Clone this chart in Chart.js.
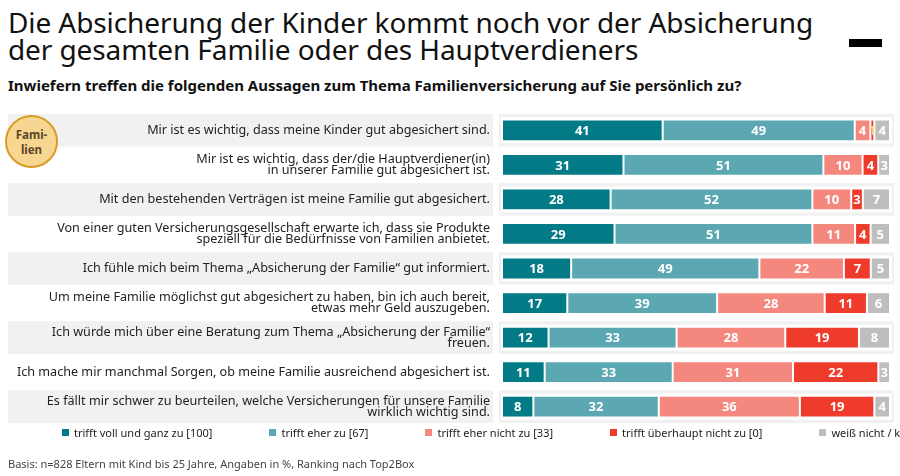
<!DOCTYPE html>
<html>
<head>
<meta charset="utf-8">
<script src="https://cdn.jsdelivr.net/npm/chart.js@4.4.1/dist/chart.umd.min.js"></script>
<style>
  html, body { margin: 0; padding: 0; background: #fff; }
  body { width: 900px; height: 476px; position: relative; overflow: hidden; font-family: "Noto Sans", sans-serif; color: #111; }
  #title { position: absolute; left: 8px; top: 9px; font-size: 28px; line-height: 27px; letter-spacing: -0.1px; }
  #dash { position: absolute; left: 849px; top: 39px; width: 33px; height: 8px; background: #000; }
  #subtitle { position: absolute; left: 8px; top: 75px; font-size: 15px; font-weight: bold; }
  #wrap { position: absolute; left: 0; top: 0; width: 900px; height: 476px; }
  #badge { position: absolute; left: 5px; top: 115px; width: 49px; height: 49px; border-radius: 50%; background: #F7D692; border: 2px solid #D89B25;
           font-size: 11.5px; font-weight: bold; color: #5a4726; text-align: center; line-height: 15px; display: flex; align-items: center; justify-content: center; }
  #legend { position: absolute; left: 62px; top: 425px; white-space: nowrap; font-size: 11px; color: #222; display: flex; }
  #legend span.item { display: block; margin-right: 57px; flex: none; }
  #legend i { display: inline-block; width: 7px; height: 7px; margin-right: 5px; vertical-align: 1px; }
  #footer { position: absolute; left: 8px; top: 456px; font-size: 11px; color: #444; }
</style>
</head>
<body>
<div id="title">Die Absicherung der Kinder kommt noch vor der Absicherung<br>der gesamten Familie oder des Hauptverdieners</div>
<div id="dash"></div>
<div id="subtitle">Inwiefern treffen die folgenden Aussagen zum Thema Familienversicherung auf Sie persönlich zu?</div>
<div id="wrap"><canvas id="chartCanvas" width="900" height="476"></canvas></div>
<div id="badge">Fami-<br>lien</div>
<div id="legend"></div>
<div id="footer">Basis: n=828 Eltern mit Kind bis 25 Jahre, Angaben in %, Ranking nach Top2Box</div>
<script>
var statements = [
  ["Mir ist es wichtig, dass meine Kinder gut abgesichert sind."],
  ["Mir ist es wichtig, dass der/die Hauptverdiener(in)", "in unserer Familie gut abgesichert ist."],
  ["Mit den bestehenden Verträgen ist meine Familie gut abgesichert."],
  ["Von einer guten Versicherungsgesellschaft erwarte ich, dass sie Produkte", "speziell für die Bedürfnisse von Familien anbietet."],
  ["Ich fühle mich beim Thema „Absicherung der Familie“ gut informiert."],
  ["Um meine Familie möglichst gut abgesichert zu haben, bin ich auch bereit,", "etwas mehr Geld auszugeben."],
  ["Ich würde mich über eine Beratung zum Thema „Absicherung der Familie“", "freuen."],
  ["Ich mache mir manchmal Sorgen, ob meine Familie ausreichend abgesichert ist."],
  ["Es fällt mir schwer zu beurteilen, welche Versicherungen für unsere Familie", "wirklich wichtig sind."]
];
var answers = ["trifft voll und ganz zu [100]", "trifft eher zu [67]", "trifft eher nicht zu [33]", "trifft überhaupt nicht zu [0]", "weiß nicht / keine Angabe"];
var vollUndGanz = [41, 31, 28, 29, 18, 17, 12, 11, 8];
var eherZu = [49, 51, 52, 51, 49, 39, 33, 33, 32];
var eherNicht = [4, 10, 10, 11, 22, 28, 28, 31, 36];
var ueberhauptNicht = [1, 4, 3, 4, 7, 11, 19, 22, 19];
var weissNicht = [4, 3, 7, 5, 5, 6, 8, 3, 4];
var colors = ["#027B87", "#5BA8B2", "#F5887E", "#EE3B2B", "#BEBEBE"];

var seriesList = [vollUndGanz, eherZu, eherNicht, ueberhauptNicht, weissNicht];

// rounded shares don't add to exactly 100, the original stretches each row to full width
var rowTotals = statements.map(function (s, i) {
  return seriesList.reduce(function (sum, ser) { return sum + ser[i]; }, 0);
});

// legend as html, so it can run off the right edge like the original
var legendBox = document.getElementById("legend");
answers.forEach(function (a, i) {
  var s = document.createElement("span");
  s.className = "item";
  s.innerHTML = '<i style="background:' + colors[i] + '"></i>' + a;
  legendBox.appendChild(s);
});

// grey bands behind every other row, drawn before the tick labels
var bandPlugin = {
  id: "bands",
  beforeDraw: function (chart) {
    var ctx = chart.ctx, y = chart.scales.y, area = chart.chartArea;
    var pitch = y.getPixelForValue(1) - y.getPixelForValue(0);
    ctx.save();
    for (var i = 0; i < statements.length; i++) {
      var cy = y.getPixelForValue(i);
      if (i % 2 === 0) {
        ctx.fillStyle = "#F1F1F1";
        ctx.fillRect(8, cy - pitch / 2 + 1, 485, pitch - 2);
        ctx.fillRect(area.left - 3, cy - pitch / 2 + 1, area.right - area.left + 7, pitch - 2);
        ctx.fillStyle = "#fff";
        ctx.fillRect(area.left - 1, cy - 13, area.right - area.left + 3, 26);
      }
    }
    ctx.restore();
  }
};

var valuePlugin = {
  id: "values",
  afterDatasetsDraw: function (chart) {
    var ctx = chart.ctx;
    ctx.save();
    ctx.font = "bold 13px 'Noto Sans'";
    ctx.textAlign = "center";
    ctx.textBaseline = "middle";
    chart.data.datasets.forEach(function (ds, d) {
      chart.getDatasetMeta(d).data.forEach(function (bar, i) {
        var v = seriesList[d][i];
        ctx.fillStyle = v < 2 ? "#F7E08A" : "#fff";
        ctx.fillText(v, (bar.x + bar.base) / 2, bar.y + 1);
      });
    });
    ctx.restore();
  }
};

var ctx = document.getElementById("chartCanvas");
var familyChart = new Chart(ctx, {
  type: "bar",
  data: {
    labels: statements,
    datasets: seriesList.map(function (s, i) {
      return {
        label: answers[i],
        data: s.map(function (v, r) { return v / rowTotals[r] * 100; }),
        backgroundColor: colors[i],
        borderColor: "#fff",
        borderWidth: 1,
        borderSkipped: false,
        barPercentage: 0.7,
        categoryPercentage: 0.9
      };
    })
  },
  options: {
    indexAxis: "y",
    responsive: false,
    animation: false,
    layout: { padding: { left: 8, right: 10, top: 113, bottom: 52 } },
    plugins: { legend: { display: false }, tooltip: { enabled: false } },
    scales: {
      x: { stacked: true, min: 0, max: 100, display: false },
      y: {
        stacked: true,
        grid: { display: false, drawTicks: false },
        border: { display: false },
        afterFit: function (scale) { scale.width = 494; },
        ticks: {
          padding: 12,
          color: "#222",
          font: { family: "Noto Sans", size: 12.6, lineHeight: 0.9 }
        }
      }
    }
  },
  plugins: [bandPlugin, valuePlugin]
});
</script>
</body>
</html>
